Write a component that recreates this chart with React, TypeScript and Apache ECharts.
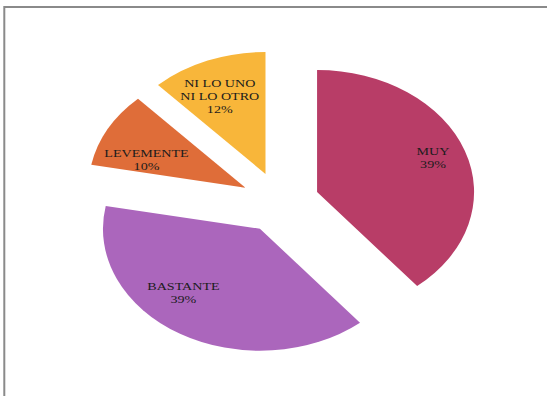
import React, { useEffect, useRef } from "react";
import * as echarts from "echarts";

// ---- data ----
const categories: string[] = ["MUY", "BASTANTE", "LEVEMENTE", "NI LO UNO\nNI LO OTRO"];
const values: number[] = [39, 39, 10, 12];
const sliceColors: string[] = ["#B83D67", "#AB66BC", "#DF6D39", "#F8B63A"];

// ---- layout (style constants, not data) ----
const CX = 280;
const CY = 202.4;
const R = 157;
const K = 0.777; // vertical squash of the pie
const EXPLODE = 39.4;
const TEXT_STRETCH = 1.28;
// per-slice label placement tweak: [angle delta (deg), radius fraction]
const labelTweak: [number, number][] = [
  [-1, 0.79],
  [12, 0.72],
  [-9, 0.67],
  [-3, 0.7],
];

export default function App() {
  const ref = useRef<HTMLDivElement>(null);

  useEffect(() => {
    if (!ref.current) return;
    const chart = echarts.init(ref.current, null, { renderer: "svg" });
    const total = values.reduce((a, b) => a + b, 0);
    const starts: number[] = [];
    let acc = 0;
    values.forEach((v) => {
      starts.push(acc);
      acc += v;
    });

    const renderItem = (params: any, api: any) => {
      const i = params.dataIndex;
      const v = api.value(0);
      const a0 = (starts[i] / total) * Math.PI * 2; // clock angle from top
      const a1 = a0 + (v / total) * Math.PI * 2;
      const am = (a0 + a1) / 2;
      const ox = EXPLODE * Math.sin(am);
      const oy = -EXPLODE * Math.cos(am);
      const [dDeg, rf] = labelTweak[i];
      const al = am + (dDeg * Math.PI) / 180;
      const lx = ox + rf * R * Math.sin(al);
      const ly = oy - rf * R * Math.cos(al);
      const pct = Math.round((v / total) * 100) + "%";
      return {
        type: "group",
        children: [
          {
            type: "group",
            x: CX,
            y: CY,
            scaleY: K,
            children: [
              {
                type: "sector",
                shape: {
                  cx: ox,
                  cy: oy,
                  r: R,
                  r0: 0,
                  startAngle: a0 - Math.PI / 2,
                  endAngle: a1 - Math.PI / 2,
                  clockwise: true,
                },
                style: { fill: sliceColors[i] },
              },
            ],
          },
          {
            type: "text",
            x: CX + lx,
            y: CY + ly * K,
            scaleX: TEXT_STRETCH,
            style: {
              text: categories[i] + "\n" + pct,
              fill: "#1c1c1c",
              font: '11px "Liberation Serif", "Times New Roman", serif',
              lineHeight: 13,
              align: "center",
              verticalAlign: "middle",
            },
          },
        ],
      };
    };

    chart.setOption({
      animation: false,
      backgroundColor: "#ffffff",
      graphic: [
        {
          type: "rect",
          shape: { x: 4.3, y: 7, width: 700, height: 500 },
          style: { fill: "none", stroke: "#8a8a8a", lineWidth: 2 },
          silent: true,
        },
      ],
      series: [
        {
          type: "custom",
          coordinateSystem: "none",
          data: values.map((v) => [v]),
          renderItem,
        },
      ],
    });
    return () => chart.dispose();
  }, []);

  return (
    <div
      ref={ref}
      style={{ position: "absolute", left: 0, top: 0, width: 547, height: 396 }}
    />
  );
}
